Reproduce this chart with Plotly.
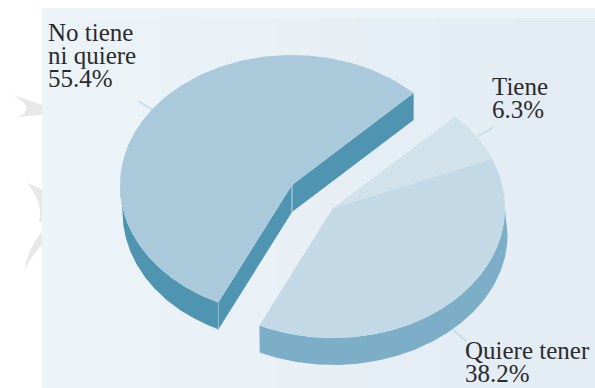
import numpy as np
import plotly.graph_objects as go

# Survey shares, in percent
categories = ["Tiene", "Quiere tener", "No tiene ni quiere"]
values = [6.3, 38.2, 55.4]
label_lines = [["Tiene", "6.3%"], ["Quiere tener", "38.2%"], ["No tiene", "ni quiere", "55.4%"]]

# Tilted-disc projection, in page pixels
RX, RY, DEPTH = 172, 130, 27
WALL_SHIFT = 2.5
START_DEG = 45.0
MAIN_CENTRE = (292, 185)
SPLIT_CENTRE = (333, 208)

TOP = {"Tiene": "#D1E2EA", "Quiere tener": "#C3D9E6", "No tiene ni quiere": "#AACADB"}
WALL = {"Quiere tener": "#7CAEC7", "No tiene ni quiere": "#4F95B2"}
LEADER = "#C5DDE9"
INK = "#2B2B2B"

# Slice boundaries, clockwise from twelve o'clock
shares = np.array(values) / sum(values)
edges = START_DEG + 360 * np.concatenate([[0], np.cumsum(shares)])
spans = {c: (edges[i], edges[i + 1]) for i, c in enumerate(categories)}


def rim(centre, a0, a1, drop=0):
    t = np.radians(np.linspace(a0, a1, 160))
    # the lower rim drifts slightly to the right at the disc's sides
    skew = WALL_SHIFT * np.sin(t) ** 2 if drop else 0
    return centre[0] + RX * np.sin(t) + skew, centre[1] - RY * np.cos(t) + drop


def polygon(xs, ys, colour):
    return go.Scatter(x=list(xs), y=list(ys), mode="lines", fill="toself", fillcolor=colour,
                      line=dict(width=0), hoverinfo="skip", showlegend=False)


def wedge(centre, a0, a1, colour):
    x, y = rim(centre, a0, a1)
    return polygon(np.r_[centre[0], x, centre[0]], np.r_[centre[1], y, centre[1]], colour)


def outer_wall(centre, a0, a1, colour):
    x, y = rim(centre, a0, a1)
    xb, yb = rim(centre, a1, a0, DEPTH)
    return polygon(np.r_[x, xb, x[0]], np.r_[y, yb, y[0]], colour)


def cut_wall(centre, angle, colour):
    x, y = rim(centre, angle, angle)
    ex, ey = x[0], y[0]
    cx, cy = centre
    return polygon([cx, ex, ex, cx, cx], [cy, ey, ey + DEPTH, cy + DEPTH, cy], colour)


def seam(x, y, colour):
    return go.Scatter(x=[x, x], y=[y, y + DEPTH], mode="lines", line=dict(color=colour, width=1),
                      hoverinfo="skip", showlegend=False)


def leader(x0, y0, x1, y1):
    return go.Scatter(x=[x0, x1], y=[y0, y1], mode="lines", line=dict(color=LEADER, width=2),
                      hoverinfo="skip", showlegend=False)


fig = go.Figure()

main_a0, main_a1 = spans["No tiene ni quiere"]
quiere_a0, quiere_a1 = spans["Quiere tener"]
tiene_a0, tiene_a1 = spans["Tiene"]

# Leader lines sit behind the slices
fig.add_trace(leader(138, 101, 156, 112))
fig.add_trace(leader(478, 136, 494, 127))
fig.add_trace(leader(451, 328, 466, 341))

# Large slice: walls first, lid on top
fig.add_trace(cut_wall(MAIN_CENTRE, main_a0, WALL["No tiene ni quiere"]))
fig.add_trace(cut_wall(MAIN_CENTRE, main_a1, WALL["No tiene ni quiere"]))
fig.add_trace(outer_wall(MAIN_CENTRE, main_a0, 270, WALL["No tiene ni quiere"]))
fig.add_trace(wedge(MAIN_CENTRE, main_a0, main_a1, TOP["No tiene ni quiere"]))
low_x, low_y = rim(MAIN_CENTRE, main_a0, main_a0)
fig.add_trace(seam(low_x[0], low_y[0], "#9FB4BE"))
fig.add_trace(seam(MAIN_CENTRE[0], MAIN_CENTRE[1], "#C9D6DC"))

# Detached pair of slices
fig.add_trace(outer_wall(SPLIT_CENTRE, 90, quiere_a1, WALL["Quiere tener"]))
fig.add_trace(wedge(SPLIT_CENTRE, quiere_a0, quiere_a1, TOP["Quiere tener"]))
fig.add_trace(wedge(SPLIT_CENTRE, tiene_a0, tiene_a1, TOP["Tiene"]))

# Backdrop: grey swooshes, stepped panel and lighter header strip
shapes = []
for path in ["M13,95 L42,105 L42,115 L17,117 Q38,109 13,95 Z",
             "M27,183 Q44,204 39,222 L42,222 L42,189 Z",
             "M42,232 Q29,246 24,271 Q31,256 42,245 Z"]:
    shapes.append(dict(type="path", path=path, fillcolor="#E8E8E8", line_width=0, layer="below"))

left, right = np.array([0xEC, 0xF4, 0xF8]), np.array([0xE3, 0xEB, 0xF3])
steps = np.linspace(42, 595, 15)
for i in range(len(steps) - 1):
    c = left + (right - left) * i / (len(steps) - 2)
    shapes.append(dict(type="rect", x0=steps[i], x1=steps[i + 1] + 1, y0=8, y1=388,
                       fillcolor=f"rgb({c[0]:.0f},{c[1]:.0f},{c[2]:.0f})", line_width=0, layer="below"))
shapes.append(dict(type="rect", x0=42, x1=595, y0=8, y1=18, fillcolor="#ECF4F7", line_width=0, layer="below"))

# Labels, one text point per line
anchors = {"Tiene": (492, 89), "Quiere tener": (465, 353), "No tiene ni quiere": (48, 35)}
for cat, lines in zip(categories, label_lines):
    x0, y0 = anchors[cat]
    fig.add_trace(go.Scatter(
        x=[x0] * len(lines), y=[y0 + k * 23 for k in range(len(lines))], text=lines,
        mode="text", textposition="middle right", hoverinfo="skip", showlegend=False, cliponaxis=False,
        textfont=dict(family="Liberation Serif", size=25, color=INK),
    ))

fig.update_layout(
    width=595, height=388, margin=dict(l=0, r=0, t=0, b=0),
    paper_bgcolor="white", plot_bgcolor="white", showlegend=False,
    xaxis=dict(range=[0, 595], visible=False, fixedrange=True),
    yaxis=dict(range=[388, 0], visible=False, fixedrange=True),
    shapes=shapes,
)
fig.write_html("out.html", config=dict(displayModeBar=False))
